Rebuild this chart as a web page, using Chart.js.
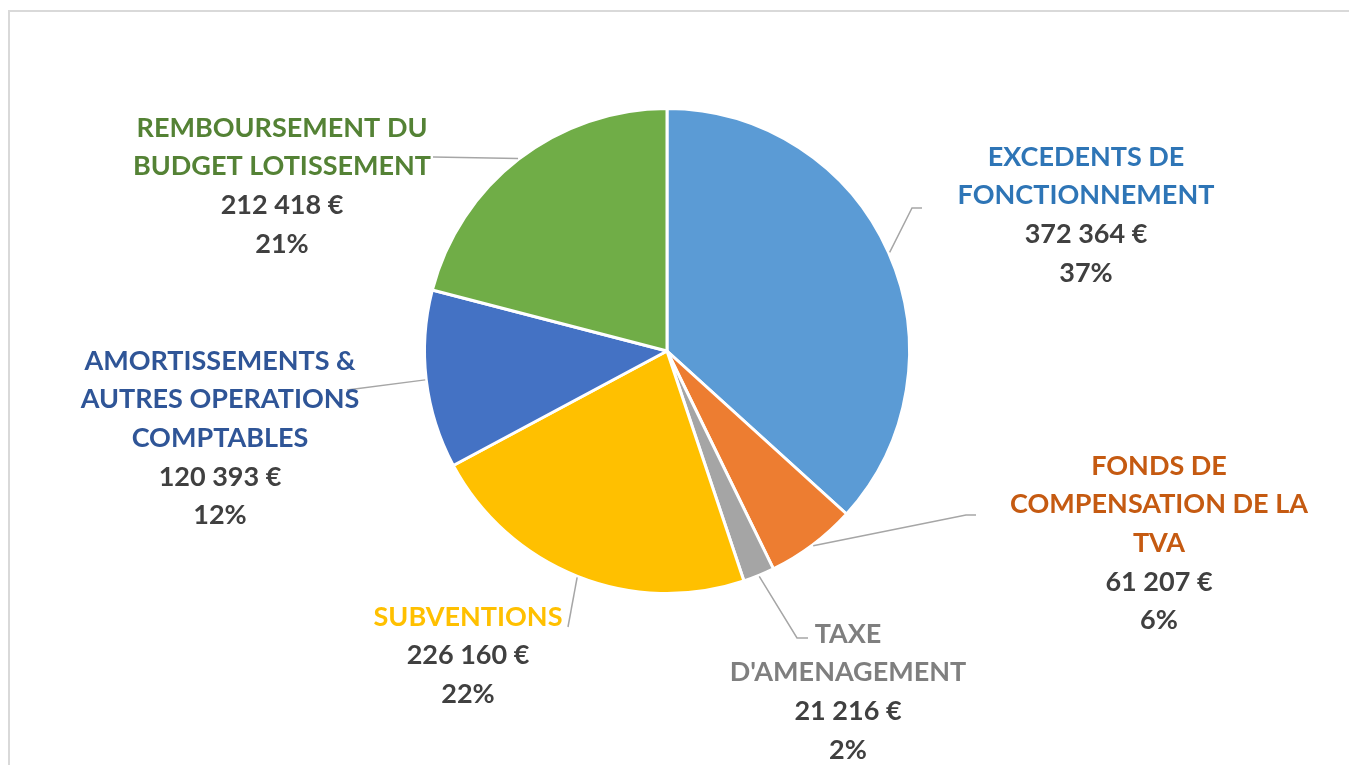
<!DOCTYPE html>
<html>
<head>
<meta charset="utf-8">
<script src="https://cdn.jsdelivr.net/npm/chart.js@4.4.0/dist/chart.umd.min.js"></script>
<style>
  body { margin: 0; background: #fff; overflow: hidden; }
  #frame { position: absolute; left: 8px; top: 10px; width: 1400px; height: 800px;
           border-left: 2px solid #d9d9d9; border-top: 2px solid #d9d9d9; }
  #pieChart { position: absolute; left: 0; top: 0; }
</style>
</head>
<body>
<div id="frame"></div>
<canvas id="pieChart" width="1349" height="765"></canvas>
<script>
const categories = [
  ["EXCEDENTS DE", "FONCTIONNEMENT"],
  ["FONDS DE", "COMPENSATION DE LA", "TVA"],
  ["TAXE", "D'AMENAGEMENT"],
  ["SUBVENTIONS"],
  ["AMORTISSEMENTS &", "AUTRES OPERATIONS", "COMPTABLES"],
  ["REMBOURSEMENT DU", "BUDGET LOTISSEMENT"]
];
const amounts = [372364, 61207, 21216, 226160, 120393, 212418];

const sliceColors = ["#5B9BD5", "#ED7D31", "#A5A5A5", "#FFC000", "#4472C4", "#70AD47"];
const labelColors = ["#2E75B6", "#C55A11", "#7F7F7F", "#FFC000", "#2F5597", "#548235"];

// label layout: text centre x, first line y, leader line points after the slice edge
const labelLayout = [
  { x: 1086, y: 157, leader: [[912, 208], [922, 208]] },
  { x: 1159, y: 466, leader: [[966, 515], [976, 515]] },
  { x: 848, y: 634, leader: [[797, 638], [808, 638]] },
  { x: 468, y: 617, leader: [[568, 627]] },
  { x: 220, y: 361, leader: [[347, 390]] },
  { x: 282, y: 128, leader: [[433, 157]] }
];

const FONT = "bold 27px Lato, 'Open Sans', sans-serif";
const LINE_H = 38.6;

function euro(v) {
  return String(v).replace(/\B(?=(\d{3})+(?!\d))/g, " ") + " €";
}

const labelPlugin = {
  id: "pieLabels",
  afterDatasetsDraw(chart) {
    const ctx = chart.ctx;
    const meta = chart.getDatasetMeta(0);
    const total = amounts.reduce((a, b) => a + b, 0);
    ctx.save();
    meta.data.forEach((arc, i) => {
      const p = arc.getProps(["x", "y", "startAngle", "endAngle", "outerRadius"], true);
      const mid = (p.startAngle + p.endAngle) / 2;
      const r = p.outerRadius + 1;
      const lay = labelLayout[i];
      // leader line
      ctx.strokeStyle = "#A6A6A6";
      ctx.lineWidth = 1.5;
      ctx.beginPath();
      ctx.moveTo(p.x + Math.cos(mid) * r, p.y + Math.sin(mid) * r);
      lay.leader.forEach(pt => ctx.lineTo(pt[0], pt[1]));
      ctx.stroke();
      // texts
      ctx.font = FONT;
      ctx.textAlign = "center";
      ctx.textBaseline = "middle";
      let y = lay.y;
      categories[i].forEach(line => {
        ctx.fillStyle = labelColors[i];
        ctx.fillText(line, lay.x, y);
        y += LINE_H;
      });
      ctx.fillStyle = "#404040";
      ctx.fillText(euro(amounts[i]), lay.x, y);
      y += LINE_H;
      ctx.fillText(Math.round(amounts[i] / total * 100) + "%", lay.x, y);
    });
    ctx.restore();
  }
};

const ctx = document.getElementById("pieChart").getContext("2d");
new Chart(ctx, {
  type: "pie",
  data: {
    labels: categories.map(c => c.join(" ")),
    datasets: [{
      data: amounts,
      backgroundColor: sliceColors,
      borderColor: "#ffffff",
      borderWidth: 3
    }]
  },
  options: {
    responsive: false,
    animation: false,
    layout: { padding: { left: 423, right: 438, top: 107, bottom: 170 } },
    plugins: {
      legend: { display: false },
      tooltip: { enabled: false }
    }
  },
  plugins: [labelPlugin]
});
</script>
</body>
</html>
